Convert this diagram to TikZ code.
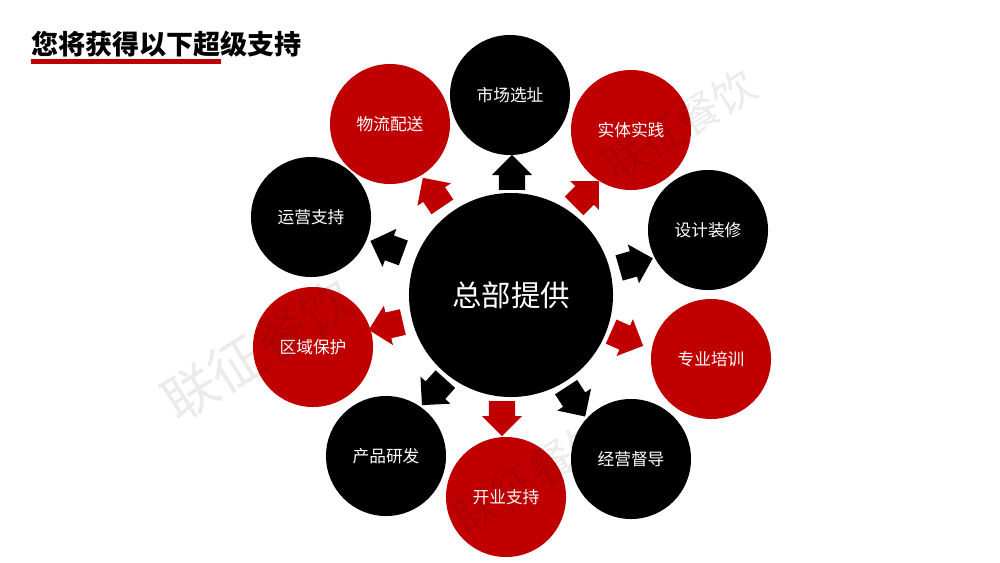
\documentclass[tikz,border=0pt]{standalone}
\usepackage{fontspec}
\setmainfont{Noto Sans CJK SC}
\usetikzlibrary{shapes.arrows}
\definecolor{darkred}{HTML}{C00000}
\begin{document}
\begin{tikzpicture}[x=0.04cm,y=-0.04cm]
\tikzstyle{black node}=[circle,fill=black,text=white,inner sep=0,minimum size=4.8cm,font=\fontsize{19}{19}\selectfont]
\tikzstyle{red node}=[black node,fill=darkred]
\tikzstyle{hub node}=[black node,minimum size=8.16cm,font=\fontsize{33.5}{33.5}\selectfont]
\tikzstyle{black arrow}=[single arrow,fill=black,anchor=tail,inner xsep=0,inner ysep=0.52cm,minimum height=1.4cm,minimum width=1.6cm,single arrow head extend=0.28cm,single arrow head indent=0cm]
\tikzstyle{red arrow}=[black arrow,fill=darkred]
\tikzstyle{mark text}=[text=black,opacity=0.08,rotate=32]
\useasboundingbox (0,0) rectangle (1000,562);
\fill[white] (0,0) rectangle (1000,562);
% title
\node(title)[anchor=west,inner sep=0,font=\fontsize{30.8}{30.8}\bfseries] at (31,44){您将获得以下超级支持};
\fill[darkred] (31,59) rectangle (221,64);
% circles
\node(hub)[hub node] at (511,295){总部提供};
\node(site)[black node] at (510,95){市场选址};
\node(practice)[red node] at (631,130){实体实践};
\node(design)[black node] at (708,230){设计装修};
\node(training)[red node] at (711,359){专业培训};
\node(audit)[black node] at (631,459){经营督导};
\node(opening)[red node] at (506,497){开业支持};
\node(product)[black node] at (386,456){产品研发};
\node(region)[red node] at (313,347){区域保护};
\node(operate)[black node] at (311,217){运营支持};
\node(logistics)[red node] at (390,124){物流配送};
% arrows
\node(a1)[black arrow,rotate=90] at (512,190){};
\node(a2)[red arrow,rotate=45] at (574,206){};
\node(a3)[black arrow,rotate=16] at (619,268){};
\node(a4)[red arrow,rotate=-24] at (611,331.5){};
\node(a5)[black arrow,rotate=-57] at (566,387){};
\node(a6)[red arrow,rotate=-90] at (502,401){};
\node(a7)[black arrow,rotate=-132] at (445.5,379){};
\node(a8)[red arrow,rotate=193] at (403,322){};
\node(a9)[black arrow,rotate=160] at (403.5,253){};
\node(a10)[red arrow,rotate=124] at (442.5,207){};
% watermark
\node(mark1)[mark text,font=\fontsize{61}{61}\selectfont] at (258.5,349.5){联征餐饮};
\node(mark2)[mark text,font=\fontsize{48}{48}\selectfont] at (680,125){联征餐饮};
\node(mark3)[mark text,font=\fontsize{51}{51}\selectfont] at (534,475.5){联征餐饮};
\end{tikzpicture}
\end{document}
